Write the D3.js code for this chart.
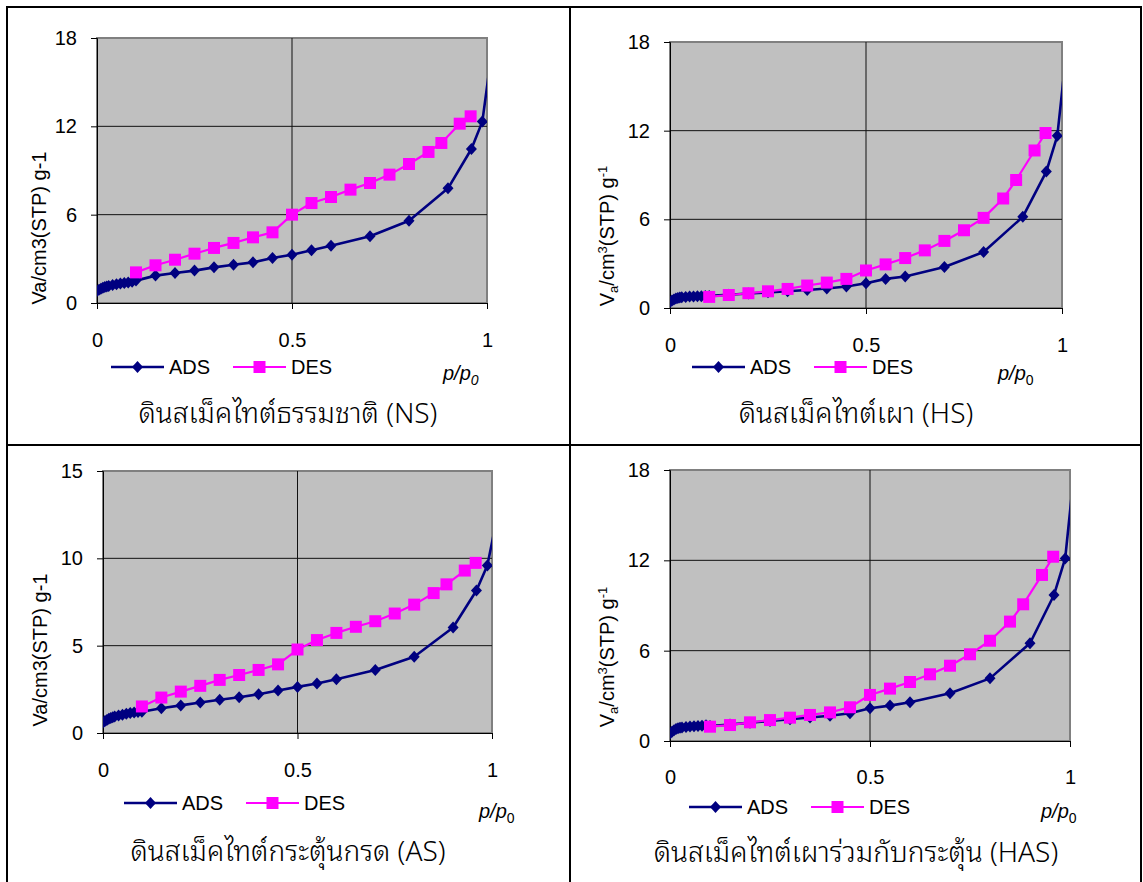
<!DOCTYPE html>
<html>
<head>
<meta charset="utf-8">
<script src="https://cdn.jsdelivr.net/npm/d3@7"></script>
<style>
  body { margin: 0; background: #fff; }
  svg { display: block; font-family: "Liberation Sans", Arial, sans-serif; }
</style>
</head>
<body>
<svg id="chart" width="1143" height="882"></svg>
<script>
// Relative pressure (p/p0) of the adsorption and desorption branches
const adsPressure = [0, 0.005, 0.01, 0.015, 0.02, 0.025, 0.03, 0.04, 0.05, 0.06, 0.07, 0.08, 0.09,
  0.1, 0.15, 0.2, 0.25, 0.3, 0.35, 0.4, 0.45, 0.5, 0.55, 0.6, 0.7, 0.8, 0.9, 0.96, 0.988, 1.02];
const desPressure = [0.1, 0.15, 0.2, 0.25, 0.3, 0.35, 0.4, 0.45, 0.5, 0.55, 0.6, 0.65, 0.7, 0.75,
  0.8, 0.85, 0.883, 0.93, 0.958];

// Adsorbed volume, cm3(STP)/g
const adsNS = [0.82, 0.9, 0.97, 1.03, 1.08, 1.12, 1.16, 1.22, 1.27, 1.32, 1.36, 1.4, 1.44,
  1.52, 1.86, 2.04, 2.2, 2.42, 2.6, 2.76, 3.06, 3.28, 3.58, 3.89, 4.53, 5.59, 7.79, 10.46, 12.32, 18.6];
const desNS = [2.08, 2.56, 2.94, 3.35, 3.74, 4.08, 4.46, 4.8, 6.0, 6.79, 7.2, 7.7, 8.15, 8.72,
  9.44, 10.26, 10.87, 12.18, 12.68];

const adsHS = [0.4, 0.5, 0.58, 0.64, 0.68, 0.71, 0.73, 0.75, 0.77, 0.78, 0.79, 0.8, 0.81,
  0.82, 0.9, 0.98, 1.06, 1.13, 1.22, 1.32, 1.45, 1.68, 1.97, 2.13, 2.77, 3.79, 6.17, 9.23, 11.65, 19.5];
const desHS = [0.75, 0.88, 1.0, 1.13, 1.29, 1.52, 1.72, 1.97, 2.54, 2.95, 3.38, 3.9, 4.54, 5.26,
  6.1, 7.41, 8.66, 10.66, 11.84];

const adsAS = [0.6, 0.68, 0.75, 0.81, 0.86, 0.9, 0.94, 1.0, 1.05, 1.1, 1.14, 1.17, 1.2,
  1.22, 1.42, 1.58, 1.75, 1.9, 2.05, 2.22, 2.43, 2.64, 2.83, 3.08, 3.61, 4.37, 6.04, 8.16, 9.59, 13.1];
const desAS = [1.52, 2.03, 2.37, 2.7, 3.04, 3.32, 3.61, 3.93, 4.78, 5.32, 5.73, 6.08, 6.4, 6.84,
  7.35, 8.01, 8.51, 9.3, 9.74];

const adsHAS = [0.5, 0.62, 0.72, 0.8, 0.85, 0.88, 0.9, 0.93, 0.96, 0.98, 1.0, 1.02, 1.04,
  1.0, 1.1, 1.22, 1.33, 1.45, 1.56, 1.68, 1.84, 2.17, 2.35, 2.57, 3.17, 4.16, 6.49, 9.7, 12.13, 20.4];
const desHAS = [0.95, 1.06, 1.24, 1.39, 1.55, 1.73, 1.9, 2.24, 3.06, 3.48, 3.92, 4.43, 5.0, 5.76,
  6.66, 7.93, 9.08, 11.03, 12.24];

// Axis ticks
const xTicks = [0, 0.5, 1];
const yTicks18 = [0, 6, 12, 18];
const yTicks15 = [0, 5, 10, 15];

const seriesNames = ["ADS", "DES"];
const titles = [
  "ดินสเม็คไทต์ธรรมชาติ (NS)",
  "ดินสเม็คไทต์เผา (HS)",
  "ดินสเม็คไทต์กระตุ้นกรด (AS)",
  "ดินสเม็คไทต์เผาร่วมกับกระตุ้น (HAS)"
];

const ADS_COLOR = "#000080";
const DES_COLOR = "#FF00FF";
const THAI_FONT = "'Noto Sans Thai Looped', 'Loma', 'Garuda', 'Laksaman', 'Norasi', 'Noto Sans Thai', 'Noto Sans', sans-serif";

const panels = [
  { title: titles[0], ads: adsNS, des: desNS, yTicks: yTicks18, styledLabel: false, italicZero: true,
    plot: { x0: 97, x1: 487, y0: 38, y1: 303 }, xLabelY: 347, yLabel: { x: 46, y: 228 },
    legendY: 367, adsX: 111, desX: 233, pp: { x: 443, y: 380 }, titleXY: { x: 288, y: 423 } },
  { title: titles[1], ads: adsHS, des: desHS, yTicks: yTicks18, styledLabel: true, italicZero: false,
    plot: { x0: 670, x1: 1062, y0: 42, y1: 308 }, xLabelY: 352, yLabel: { x: 614, y: 236 },
    legendY: 367, adsX: 692, desX: 814, pp: { x: 998, y: 380 }, titleXY: { x: 856, y: 423 } },
  { title: titles[2], ads: adsAS, des: desAS, yTicks: yTicks15, styledLabel: false, italicZero: false,
    plot: { x0: 103, x1: 492, y0: 471, y1: 733 }, xLabelY: 777, yLabel: { x: 47, y: 650 },
    legendY: 803, adsX: 124, desX: 246, pp: { x: 479, y: 818 }, titleXY: { x: 288, y: 861 } },
  { title: titles[3], ads: adsHAS, des: desHAS, yTicks: yTicks18, styledLabel: true, italicZero: false,
    plot: { x0: 670, x1: 1070, y0: 470, y1: 741 }, xLabelY: 784, yLabel: { x: 614, y: 657 },
    legendY: 807, adsX: 689, desX: 811, pp: { x: 1041, y: 818 }, titleXY: { x: 856, y: 862 } }
];

const svg = d3.select("#chart");

// Table frame
const frame = svg.append("g").attr("stroke", "#000").attr("stroke-width", 2);
frame.append("line").attr("x1", 6).attr("x2", 1142).attr("y1", 7).attr("y2", 7);
frame.append("line").attr("x1", 7).attr("x2", 7).attr("y1", 6).attr("y2", 882);
frame.append("line").attr("x1", 1141).attr("x2", 1141).attr("y1", 6).attr("y2", 882);
frame.append("line").attr("x1", 570).attr("x2", 570).attr("y1", 6).attr("y2", 882);
frame.append("line").attr("x1", 6).attr("x2", 1142).attr("y1", 445).attr("y2", 445);

const diamond = "M0,-6L5.5,0L0,6L-5.5,0Z";
const square = "M-6,-6H6V6H-6Z";

panels.forEach((p, i) => {
  const { x0, x1, y0, y1 } = p.plot;
  const x = d3.scaleLinear().domain([0, 1]).range([x0, x1]);
  const yMax = p.yTicks[p.yTicks.length - 1];
  const y = d3.scaleLinear().domain([0, yMax]).range([y1, y0]);
  const g = svg.append("g");

  // plot area
  g.append("rect").attr("x", x0).attr("y", y0).attr("width", x1 - x0).attr("height", y1 - y0)
    .attr("fill", "#C0C0C0").attr("stroke", "#808080").attr("stroke-width", 2);

  // gridlines
  g.append("g").selectAll("line").data(p.yTicks.slice(1, -1)).join("line")
    .attr("x1", x0).attr("x2", x1).attr("y1", d => y(d)).attr("y2", d => y(d))
    .attr("stroke", "#111").attr("stroke-width", 1);
  g.append("g").selectAll("line").data(xTicks.slice(1, -1)).join("line")
    .attr("x1", d => x(d)).attr("x2", d => x(d)).attr("y1", y0).attr("y2", y1)
    .attr("stroke", "#111").attr("stroke-width", 1);

  // axes
  const yAxis = d3.axisLeft(y).tickValues(p.yTicks).tickSize(6).tickPadding(14).tickFormat(d3.format("d"));
  const gy = g.append("g").attr("transform", `translate(${x0},0)`).call(yAxis);
  gy.select(".domain").attr("stroke", "#000");
  gy.selectAll(".tick line").attr("stroke", "#000");
  gy.selectAll("text").attr("font-size", 20).attr("fill", "#000").attr("font-family", "Liberation Sans, Arial, sans-serif");

  const xAxis = d3.axisBottom(x).tickValues(xTicks).tickSize(6).tickPadding(0).tickFormat(d => d === 0.5 ? "0.5" : String(d));
  const gx = g.append("g").attr("transform", `translate(0,${y1})`).call(xAxis);
  gx.select(".domain").attr("stroke", "#000");
  gx.selectAll(".tick line").attr("stroke", "#000");
  gx.selectAll("text").attr("font-size", 20).attr("fill", "#000")
    .attr("font-family", "Liberation Sans, Arial, sans-serif")
    .attr("dy", null).attr("y", p.xLabelY - y1);

  // series, clipped to the plot area
  const clipId = "clip" + i;
  svg.append("clipPath").attr("id", clipId).append("rect")
    .attr("x", x0).attr("y", y0).attr("width", x1 - x0).attr("height", y1 - y0);
  const series = g.append("g").attr("clip-path", `url(#${clipId})`);
  const line = d3.line().x(d => x(d[0])).y(d => y(d[1]));

  const adsData = adsPressure.map((pp, k) => [pp, p.ads[k]]);
  const desData = desPressure.map((pp, k) => [pp, p.des[k]]);

  series.append("path").datum(adsData).attr("d", line).attr("fill", "none")
    .attr("stroke", ADS_COLOR).attr("stroke-width", 2.6).attr("stroke-linejoin", "round");
  series.append("g").selectAll("path").data(adsData).join("path")
    .attr("d", diamond).attr("transform", d => `translate(${x(d[0])},${y(d[1])})`).attr("fill", ADS_COLOR);

  series.append("path").datum(desData).attr("d", line).attr("fill", "none")
    .attr("stroke", DES_COLOR).attr("stroke-width", 2.2).attr("stroke-linejoin", "round");
  series.append("g").selectAll("path").data(desData).join("path")
    .attr("d", square).attr("transform", d => `translate(${x(d[0])},${y(d[1])})`).attr("fill", DES_COLOR);

  // y-axis label
  const yl = g.append("text").attr("transform", `translate(${p.yLabel.x},${p.yLabel.y}) rotate(-90)`)
    .attr("text-anchor", "middle").attr("font-size", 20).attr("fill", "#000");
  if (p.styledLabel) {
    yl.append("tspan").text("V");
    yl.append("tspan").text("a").attr("font-size", 13).attr("baseline-shift", "-4");
    yl.append("tspan").text("/cm");
    yl.append("tspan").text("3").attr("font-size", 13).attr("baseline-shift", "7");
    yl.append("tspan").text("(STP) g");
    yl.append("tspan").text("-1").attr("font-size", 13).attr("baseline-shift", "7");
  } else {
    yl.text("Va/cm3(STP) g-1");
  }

  // legend
  const legendItems = [
    { name: seriesNames[0], x: p.adsX, color: ADS_COLOR, shape: diamond, w: 2.6 },
    { name: seriesNames[1], x: p.desX, color: DES_COLOR, shape: square, w: 2.2 }
  ];
  legendItems.forEach(it => {
    g.append("line").attr("x1", it.x).attr("x2", it.x + 53).attr("y1", p.legendY).attr("y2", p.legendY)
      .attr("stroke", it.color).attr("stroke-width", it.w);
    g.append("path").attr("d", it.shape).attr("transform", `translate(${it.x + 26.5},${p.legendY})`).attr("fill", it.color);
    g.append("text").attr("x", it.x + 58).attr("y", p.legendY + 7).attr("font-size", 20).attr("fill", "#000").text(it.name);
  });

  // p/p0 axis caption
  const pp = g.append("text").attr("x", p.pp.x).attr("y", p.pp.y).attr("font-size", 20).attr("fill", "#000");
  pp.append("tspan").text("p/p").attr("font-style", "italic");
  pp.append("tspan").text("0").attr("font-size", 14).attr("baseline-shift", "-5")
    .attr("font-style", p.italicZero ? "italic" : "normal");

  // panel title
  g.append("text").attr("x", p.titleXY.x).attr("y", p.titleXY.y).attr("text-anchor", "middle")
    .attr("font-size", 28).attr("font-weight", 300).attr("fill", "#000")
    .attr("font-family", THAI_FONT)
    .text(p.title);
});
</script>
</body>
</html>
